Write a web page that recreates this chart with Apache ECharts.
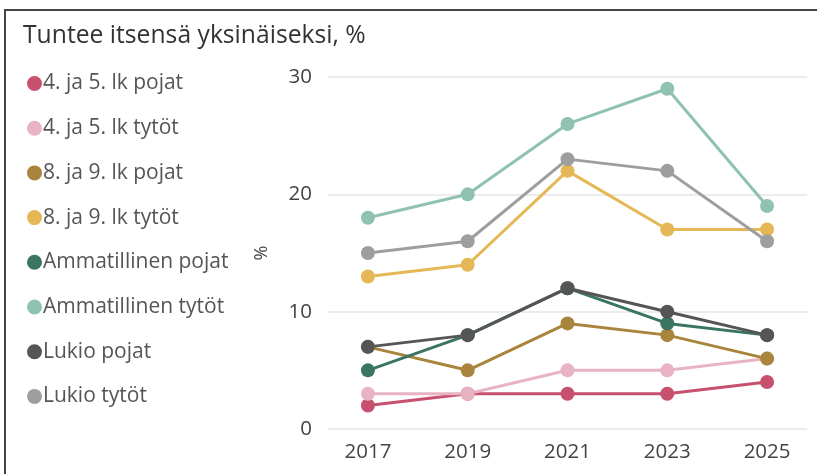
<!DOCTYPE html>
<html><head><meta charset="utf-8">
<script src="https://cdn.jsdelivr.net/npm/echarts@6/dist/echarts.min.js"></script>
<style>html,body{margin:0;padding:0;background:#fff}#c{width:817px;height:474px}</style>
</head><body><div id="c"></div>
<script>
const years = [2017, 2019, 2021, 2023, 2025];
const seriesNames = ['4. ja 5. lk pojat','4. ja 5. lk tytöt','8. ja 9. lk pojat','8. ja 9. lk tytöt','Ammatillinen pojat','Ammatillinen tytöt','Lukio pojat','Lukio tytöt'];
const lk45Pojat = [2, 3, 3, 3, 4];
const lk45Tytot = [3, 3, 5, 5, 6];
const lk89Pojat = [7, 5, 9, 8, 6];
const lk89Tytot = [13, 14, 22, 17, 17];
const ammPojat = [5, 8, 12, 9, 8];
const ammTytot = [18, 20, 26, 29, 19];
const lukioPojat = [7, 8, 12, 10, 8];
const lukioTytot = [15, 16, 23, 22, 16];
const yTicks = [0, 10, 20, 30];
const allValues = [lk45Pojat, lk45Tytot, lk89Pojat, lk89Tytot, ammPojat, ammTytot, lukioPojat, lukioTytot];
const colors = ['#c7506f','#e8b4c3','#a9843c','#e6b756','#3a7463','#8fc2b0','#555555','#9e9e9e'];
const FONT = 'Open Sans';

const chart = echarts.init(document.getElementById('c'), null, {renderer:'canvas'});
chart.setOption({
  animation: false,
  color: colors,
  textStyle: {fontFamily: FONT},
  title: {text: 'Tuntee itsensä yksinäiseksi, %', left: 18, top: 18,
    textStyle: {fontFamily: FONT, fontSize: 24.7, fontWeight: 'normal', color: '#333'}},
  graphic: [{type:'rect', shape:{x:5, y:10, width:900, height:600}, style:{fill:'none', stroke:'#444', lineWidth:2}, silent:true, z:-1}],
  legend: {orient:'vertical', left: 22, top: 68, icon:'circle', itemWidth: 15, itemHeight: 15, itemGap: 23.7,
    textStyle: {fontFamily: FONT, fontSize: 21, lineHeight: 21, color:'#555', padding:[0,0,0,-4]},
    data: seriesNames},
  grid: {left: 328, right: 10, top: 77, bottom: 45},
  xAxis: {type:'value', min: 2016.2, max: 2025.8,
    axisLine:{show:false}, axisTick:{show:false}, splitLine:{show:false},
    axisLabel:{customValues: years, fontSize: 20.5, color:'#444', margin: 13, fontFamily: FONT,
      formatter: v => String(Math.round(v))}},
  yAxis: {type:'value', min: 0, max: 30, interval: 10, name: '%', nameLocation:'middle', nameGap: 57,
    nameTextStyle:{fontSize: 18, color:'#444', fontFamily: FONT},
    axisLine:{show:false}, axisTick:{show:false},
    axisLabel:{fontSize: 20.5, color:'#444', margin: 16, fontFamily: FONT,
      formatter: v => yTicks.includes(v) ? String(v) : ''},
    splitLine:{lineStyle:{color:'#ececec', width: 2}}},
  series: seriesNames.map((n, i) => ({
    name: n, type:'line', data: years.map((y, j) => [y, allValues[i][j]]),
    symbol:'circle', symbolSize: 14, lineStyle:{width: 3}, itemStyle:{color: colors[i]}
  }))
});
</script></body></html>
